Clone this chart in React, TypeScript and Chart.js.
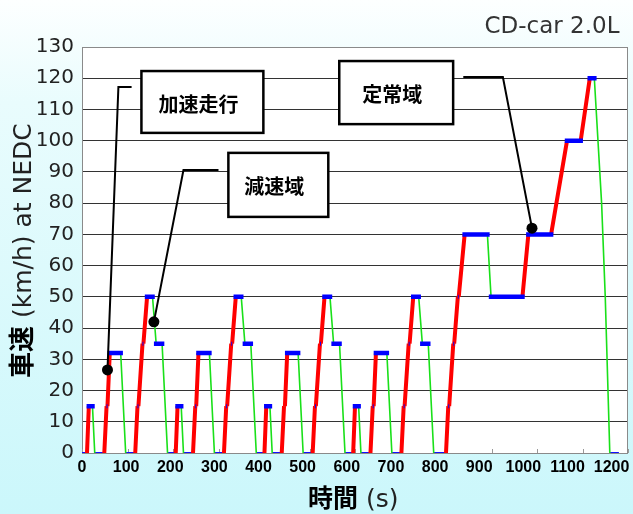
import React, { useEffect, useRef } from 'react';
import { Chart, registerables } from 'chart.js';

Chart.register(...registerables);

// NEDC drive cycle breakpoints (time in s, vehicle speed in km/h)
const timeS: number[] = [
  // ECE-15 #1
  0, 11, 15, 23, 28, 49, 54, 56, 61, 85, 96, 117, 122, 124, 133, 135, 143, 155, 163, 176, 188,
  // ECE-15 #2
  195, 206, 210, 218, 223, 244, 249, 251, 256, 280, 291, 312, 317, 319, 328, 330, 338, 350, 358, 371, 383,
  // ECE-15 #3
  390, 401, 405, 413, 418, 439, 444, 446, 451, 475, 486, 507, 512, 514, 523, 525, 533, 545, 553, 566, 578,
  // ECE-15 #4
  585, 596, 600, 608, 613, 634, 639, 641, 646, 670, 681, 702, 707, 709, 718, 720, 728, 740, 748, 761, 773,
  // EUDC
  780, 800, 805, 807, 816, 818, 826, 828, 841, 891, 899, 968, 981, 1031, 1066, 1096, 1116, 1126, 1142, 1150, 1160, 1180,
];
const speedKmh: number[] = [
  0, 0, 15, 15, 0, 0, 15, 15, 32, 32, 0, 0, 15, 15, 35, 35, 50, 50, 35, 35, 0,
  0, 0, 15, 15, 0, 0, 15, 15, 32, 32, 0, 0, 15, 15, 35, 35, 50, 50, 35, 35, 0,
  0, 0, 15, 15, 0, 0, 15, 15, 32, 32, 0, 0, 15, 15, 35, 35, 50, 50, 35, 35, 0,
  0, 0, 15, 15, 0, 0, 15, 15, 32, 32, 0, 0, 15, 15, 35, 35, 50, 50, 35, 35, 0,
  0, 0, 15, 15, 35, 35, 50, 50, 70, 70, 50, 50, 70, 70, 100, 100, 120, 120, 80, 50, 0, 0,
];

const xTickValues: number[] = [0, 100, 200, 300, 400, 500, 600, 700, 800, 900, 1000, 1100, 1200];
const chartTitle = 'CD-car 2.0L';
const yTitleBold = '車速';
const yTitleRest = '(km/h) at NEDC';
const xTitleBold = '時間';
const xTitleRest = '(s)';

// Callout annotations in data coordinates [t, v]
const calloutTexts: string[] = ['加速走行', '減速域', '定常域'];
const calloutDots: [number, number][] = [[56, 26.6], [158, 42], [989, 72]];
const calloutElbows: [number, number][] = [[80, 117.2], [223, 90.6], [925, 120.4]];
const calloutEnds: [number, number][] = [[109, 117.2], [300, 90.6], [838, 120.4]];
const calloutBoxes: [number, number, number, number][] = [
  [130.6, 122.3, 398.6, 102.5],
  [321.7, 96.1, 541.3, 75.6],
  [565.4, 125.5, 815.7, 105.3],
];

type Pt = { x: number; y: number | null };

function buildSegments() {
  const accel: Pt[] = [];
  const decel: Pt[] = [];
  const cruise: Pt[] = [];
  const shift: Pt[] = [];
  const idle: Pt[] = [];
  for (let i = 0; i < timeS.length - 1; i++) {
    const a = { x: timeS[i], y: speedKmh[i] };
    const b = { x: timeS[i + 1], y: speedKmh[i + 1] };
    let target: Pt[];
    if (b.y > a.y) target = accel;
    else if (b.y < a.y) target = decel;
    else if (a.y === 0) target = idle;
    else if (b.x - a.x <= 2) target = shift;
    else target = cruise;
    target.push(a, b, { x: b.x, y: null });
  }
  return { accel, decel, cruise, shift, idle };
}

const decorPlugin = {
  id: 'decor',
  beforeDraw(chart: any) {
    const { ctx, width, height, chartArea } = chart;
    ctx.save();
    const g = ctx.createLinearGradient(0, 0, 0, height);
    g.addColorStop(0, '#fdffff');
    g.addColorStop(0.2, '#e9fcfd');
    g.addColorStop(1, '#cbf7fb');
    ctx.fillStyle = g;
    ctx.fillRect(0, 0, width, height);
    ctx.fillStyle = '#ffffff';
    ctx.fillRect(chartArea.left, chartArea.top, chartArea.right - chartArea.left, chartArea.bottom - chartArea.top);
    ctx.restore();
  },
  beforeDatasetsDraw(chart: any) {
    const { ctx, chartArea } = chart;
    const xs = chart.scales.x;
    ctx.save();
    ctx.strokeStyle = '#8a8a8a';
    ctx.lineWidth = 1;
    ctx.strokeRect(chartArea.left + 0.5, chartArea.top + 0.5, chartArea.right - chartArea.left - 1, chartArea.bottom - chartArea.top);
    ctx.strokeStyle = '#999';
    xTickValues.forEach((v) => {
      const x = Math.round(xs.getPixelForValue(v)) + 0.5;
      ctx.beginPath();
      ctx.moveTo(x, chartArea.bottom);
      ctx.lineTo(x, chartArea.bottom - 4);
      ctx.stroke();
    });
    ctx.restore();
  },
  afterDraw(chart: any) {
    const { ctx, chartArea } = chart;
    const xs = chart.scales.x;
    const ys = chart.scales.y;
    const px = (t: number) => xs.getPixelForValue(t);
    const py = (v: number) => ys.getPixelForValue(v);
    ctx.save();

    // x tick labels
    ctx.fillStyle = '#000';
    ctx.font = 'bold 16px "Liberation Sans", Arial, sans-serif';
    ctx.textAlign = 'center';
    ctx.textBaseline = 'alphabetic';
    xTickValues.forEach((v) => {
      ctx.fillText(String(v), px(v * 0.97), chartArea.bottom + 19);
    });

    // x title
    ctx.textAlign = 'left';
    ctx.font = 'bold 25px "Noto Sans CJK JP", sans-serif';
    ctx.fillStyle = '#000';
    ctx.fillText(xTitleBold, 308, 507);
    const wx = ctx.measureText(xTitleBold).width;
    ctx.font = '25px "DejaVu Sans", sans-serif';
    ctx.fillStyle = '#222';
    ctx.fillText(xTitleRest, 308 + wx + 8, 507);

    // y title (rotated)
    ctx.save();
    ctx.translate(31, 378);
    ctx.rotate(-Math.PI / 2);
    ctx.textAlign = 'left';
    ctx.font = 'bold 26px "Noto Sans CJK JP", sans-serif';
    ctx.fillStyle = '#000';
    ctx.fillText(yTitleBold, 0, 0);
    const wy = ctx.measureText(yTitleBold).width;
    ctx.font = '25px "DejaVu Sans", sans-serif';
    ctx.fillStyle = '#222';
    ctx.fillText(yTitleRest, wy + 8, 0);
    ctx.restore();

    // chart title
    ctx.font = '23px "DejaVu Sans", sans-serif';
    ctx.fillStyle = '#333';
    ctx.textAlign = 'center';
    ctx.fillText(chartTitle, 552, 33);

    // callouts
    calloutTexts.forEach((text, i) => {
      const [dt, dv] = calloutDots[i];
      const [et, ev] = calloutElbows[i];
      const [nt, nv] = calloutEnds[i];
      const [b0, b1, b2, b3] = calloutBoxes[i];
      ctx.strokeStyle = '#000';
      ctx.lineWidth = 2;
      ctx.beginPath();
      ctx.moveTo(px(dt), py(dv));
      ctx.lineTo(px(et), py(ev));
      ctx.lineTo(px(nt), py(nv));
      ctx.stroke();
      ctx.fillStyle = '#000';
      ctx.beginPath();
      ctx.arc(px(dt), py(dv), 5.5, 0, Math.PI * 2);
      ctx.fill();
      const x0 = px(b0), y0 = py(b1), x1 = px(b2), y1 = py(b3);
      ctx.fillStyle = '#fff';
      ctx.fillRect(x0, y0, x1 - x0, y1 - y0);
      ctx.lineWidth = 2.5;
      ctx.strokeRect(x0, y0, x1 - x0, y1 - y0);
      ctx.fillStyle = '#000';
      ctx.font = 'bold 20px "Noto Sans CJK JP", sans-serif';
      ctx.textAlign = 'center';
      ctx.textBaseline = 'middle';
      ctx.fillText(text, (x0 + x1) / 2 - 4, (y0 + y1) / 2 + 2);
      ctx.textBaseline = 'alphabetic';
    });

    ctx.restore();
  },
};

export default function App() {
  const ref = useRef<HTMLCanvasElement | null>(null);
  useEffect(() => {
    document.body.style.margin = '0';
    const canvas = ref.current;
    if (!canvas) return;
    const seg = buildSegments();
    const chart = new Chart(canvas, {
      type: 'line',
      data: {
        datasets: [
          { label: 'cruise', data: seg.cruise as any, borderColor: '#0000ff', borderWidth: 4.5, pointRadius: 0, borderCapStyle: 'square', order: 0, tension: 0 },
          { label: 'shift', data: seg.shift as any, borderColor: '#0000ff', borderWidth: 4, pointRadius: 0, borderCapStyle: 'butt', order: 1, tension: 0 },
          { label: 'accel', data: seg.accel as any, borderColor: '#ff0000', borderWidth: 4, pointRadius: 0, order: 2, tension: 0 },
          { label: 'decel', data: seg.decel as any, borderColor: '#19e019', borderWidth: 1.6, pointRadius: 0, order: 3, tension: 0 },
          { label: 'idle', data: seg.idle as any, borderColor: '#1010ff', borderWidth: 2, pointRadius: 0, order: 4, tension: 0 },
        ],
      },
      options: {
        animation: false,
        responsive: false,
        maintainAspectRatio: false,
        spanGaps: false,
        layout: { padding: { top: 47, right: 5, left: 0, bottom: 0 } },
        plugins: { legend: { display: false }, tooltip: { enabled: false }, title: { display: false } },
        scales: {
          x: {
            type: 'linear',
            min: 0,
            max: 1200,
            afterFit: (s: any) => { s.height = 61; },
            ticks: { display: false, stepSize: 100 },
            grid: { display: false },
            border: { display: false },
          },
          y: {
            type: 'linear',
            min: 0,
            max: 130,
            afterFit: (s: any) => { s.width = 82; },
            ticks: { stepSize: 10, font: { family: '"DejaVu Sans", sans-serif', size: 20 }, color: '#222', padding: 8 },
            grid: {
              drawTicks: false,
              color: (c: any) => (c.tick && (c.tick.value === 0 || c.tick.value === 130) ? '#8a8a8a' : '#333'),
              lineWidth: 1,
            },
            border: { display: false },
          },
        },
      },
      plugins: [decorPlugin],
    });
    return () => chart.destroy();
  }, []);
  return (
    <div style={{ width: 633, height: 514 }}>
      <canvas ref={ref} width={633} height={514} style={{ display: 'block' }} />
    </div>
  );
}
